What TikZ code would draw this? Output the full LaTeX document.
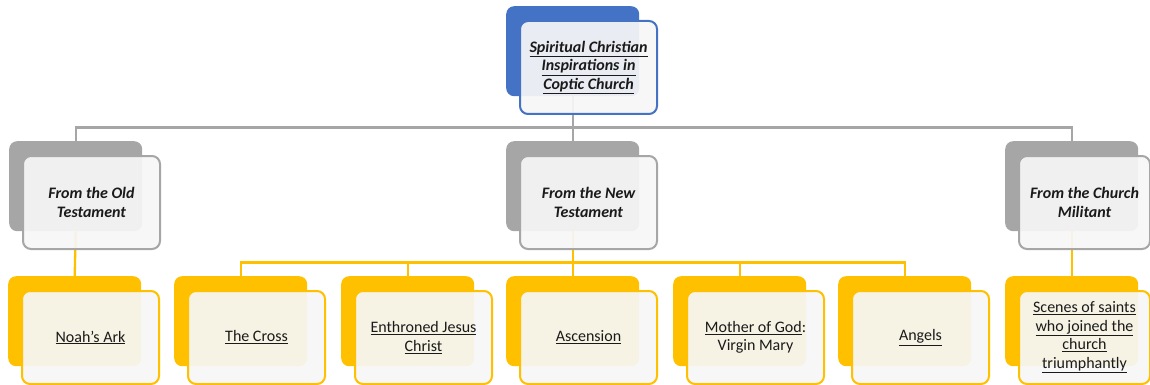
\documentclass[tikz,border=0pt]{standalone}
\usepackage{fontspec}
\setmainfont{Carlito}
\usetikzlibrary{backgrounds}
\definecolor{cblue}{HTML}{4472C4}
\definecolor{cgray}{HTML}{A6A6A6}
\definecolor{cgold}{HTML}{FFC000}
\definecolor{cfront}{HTML}{F6F6F6}
\definecolor{ctext}{HTML}{1A1A1A}
\begin{document}
\begin{tikzpicture}[x=1pt,y=-1pt,
  backbox/.style={draw=none, fill=#1, rounded corners=8pt, minimum width=133pt, minimum height=90pt, anchor=north west, inner sep=0pt},
  frontbox/.style={draw=#1, line width=2pt, fill=cfront, fill opacity=0.93, text opacity=1, rounded corners=8pt, minimum width=137pt, minimum height=93pt, anchor=north west, align=center, inner sep=0pt, text=ctext, font=\fontsize{16}{18.5}\selectfont},
  gline/.style={draw=cgray, line width=2.3pt},
  yline/.style={draw=cgold, line width=2.3pt}]
\useasboundingbox (0,0) rectangle (1150,385);
% top
\node[backbox=cblue] (b0) at (506,6) {};
% level 2
\node[backbox=cgray] (b1) at (9,141) {};
\node[backbox=cgray] (b2) at (506,141) {};
\node[backbox=cgray] (b3) at (1005,141) {};
% level 3
\node[backbox=cgold] (c0) at (8,276) {};
\node[backbox=cgold] (c1) at (174,276) {};
\node[backbox=cgold] (c2) at (341,276) {};
\node[backbox=cgold] (c3) at (506,276) {};
\node[backbox=cgold] (c4) at (673,276) {};
\node[backbox=cgold] (c5) at (838,276) {};
\node[backbox=cgold] (c6) at (1005,276) {};
% connectors
\begin{scope}[on background layer]
\draw[gline] (b0.south) -- ++(0,31) -| (b1.north);
\draw[gline] (b0.south) -- ++(0,31) -| (b2.north);
\draw[gline] (b0.south) -- ++(0,31) -| (b3.north);
\draw[yline] (b1.south) -- (c0.north);
\draw[yline] (b2.south) -- ++(0,31) -| (c1.north);
\draw[yline] (b2.south) -- ++(0,31) -| (c2.north);
\draw[yline] (b2.south) -- ++(0,31) -| (c3.north);
\draw[yline] (b2.south) -- ++(0,31) -| (c4.north);
\draw[yline] (b2.south) -- ++(0,31) -| (c5.north);
\draw[yline] (b3.south) -- (c6.north);
\end{scope}
% front boxes
\node[frontbox=cblue] (f0) at (519,20) {\bfseries\itshape\underline{Spiritual Christian}\\\bfseries\itshape\underline{Inspirations in}\\\bfseries\itshape\underline{Coptic Church}};
\node[frontbox=cgray] (f1) at (22,155) {\bfseries\itshape From the Old\\\bfseries\itshape Testament};
\node[frontbox=cgray] (f2) at (519,155) {\bfseries\itshape From the New\\\bfseries\itshape Testament};
\node[frontbox=cgray, minimum width=131pt] (f3) at (1018,155) {\bfseries\itshape From the Church\\\bfseries\itshape Militant};
\node[frontbox=cgold] (d0) at (21,290) {\underline{Noah’s Ark}};
\node[frontbox=cgold] (d1) at (187,290) {\underline{The Cross}};
\node[frontbox=cgold] (d2) at (354,290) {\underline{Enthroned Jesus}\\\underline{Christ}};
\node[frontbox=cgold] (d3) at (519,290) {\underline{Ascension}};
\node[frontbox=cgold] (d4) at (686,290) {\underline{Mother of God}:\\Virgin Mary};
\node[frontbox=cgold] (d5) at (851,290) {\underline{Angels}};
\node[frontbox=cgold, minimum width=131pt] (d6) at (1018,290) {\underline{Scenes of saints}\\\underline{who joined the}\\\underline{church}\\\underline{triumphantly}};
\end{tikzpicture}
\end{document}
